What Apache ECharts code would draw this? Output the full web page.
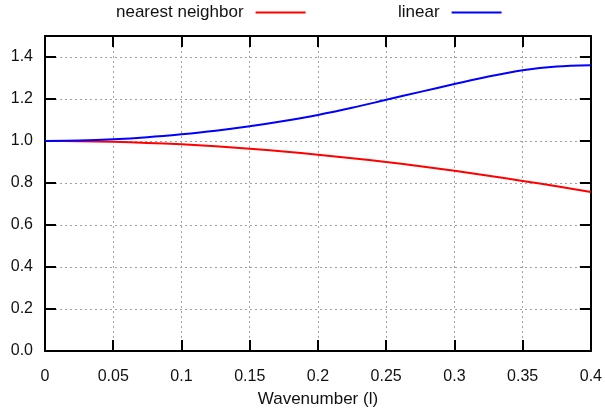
<!DOCTYPE html>
<html><head><meta charset="utf-8">
<script src="https://cdn.jsdelivr.net/npm/echarts@6/dist/echarts.min.js"></script>
<style>html,body{margin:0;padding:0;background:#fff}#c{width:605px;height:415px}</style>
</head><body><div id="c"></div>
<script>
const wavenumbers = [0, 0.025, 0.05, 0.075, 0.1, 0.125, 0.15, 0.175, 0.2, 0.225, 0.25, 0.275, 0.3, 0.325, 0.35, 0.375, 0.4];
const nearestNeighbor = [1.000, 0.999, 0.996, 0.991, 0.984, 0.975, 0.963, 0.950, 0.935, 0.918, 0.900, 0.880, 0.858, 0.835, 0.810, 0.784, 0.757];
const linear = [1.000, 1.002, 1.008, 1.018, 1.032, 1.049, 1.070, 1.095, 1.124, 1.158, 1.196, 1.234, 1.271, 1.307, 1.337, 1.355, 1.361];
const xTickLabels = ['0', '0.05', '0.1', '0.15', '0.2', '0.25', '0.3', '0.35', '0.4'];
const yTickLabels = ['0.0', '0.2', '0.4', '0.6', '0.8', '1.0', '1.2', '1.4'];
const seriesNames = ['nearest neighbor', 'linear'];
const seriesColors = ['#ff0000', '#0000ff'];
const xAxisTitle = 'Wavenumber (l)';

const FONT = 'Liberation Sans, Arial, Helvetica, sans-serif';
const XSTEP = 0.05, YSTEP = 0.2;
function pick(labels, step) {
  return function (v) {
    const i = Math.round(v / step);
    if (Math.abs(v - i * step) > 1e-6 || i < 0 || i >= labels.length) return '';
    return labels[i];
  };
}
const axisLine = { show: true, onZero: false, lineStyle: { color: '#000', width: 2 } };
const axisTick = { show: true, inside: true, length: 11, lineStyle: { color: '#000', width: 2 } };
const splitLine = { show: true, lineStyle: { color: '#a0a0a0', width: 1, type: [2, 3] } };
const legendText = { fontFamily: FONT, fontSize: 17, color: '#111', padding: [0, 7, 0, 0] };

const chart = echarts.init(document.getElementById('c'), null, { renderer: 'canvas' });
chart.setOption({
  animation: false,
  backgroundColor: '#fff',
  textStyle: { fontFamily: FONT },
  grid: { left: 45, right: 12, top: 36, bottom: 64, containLabel: false },
  legend: [
    { left: 116, top: 4, padding: 0, align: 'right', itemWidth: 50, itemHeight: 2, selectedMode: false,
      data: [{ name: seriesNames[0], icon: 'rect' }], textStyle: legendText },
    { left: 398, top: 4, padding: 0, align: 'right', itemWidth: 50, itemHeight: 2, selectedMode: false,
      data: [{ name: seriesNames[1], icon: 'rect' }], textStyle: legendText }
  ],
  xAxis: [
    { type: 'value', position: 'bottom', min: 0, max: 0.4, interval: XSTEP,
      name: xAxisTitle, nameLocation: 'middle', nameGap: 40,
      nameTextStyle: { fontFamily: FONT, fontSize: 17, color: '#111' },
      axisLine, axisTick, splitLine,
      axisLabel: { margin: 18, fontFamily: FONT, fontSize: 16, color: '#111', formatter: pick(xTickLabels, XSTEP) } },
    { type: 'value', position: 'top', min: 0, max: 0.4, interval: XSTEP,
      axisLine, axisTick, splitLine: { show: false }, axisLabel: { show: false } }
  ],
  yAxis: [
    { type: 'value', position: 'left', min: 0, max: 1.5, interval: YSTEP,
      axisLine, axisTick, splitLine,
      axisLabel: { margin: 12, fontFamily: FONT, fontSize: 16, color: '#111', formatter: pick(yTickLabels, YSTEP) } },
    { type: 'value', position: 'right', min: 0, max: 1.5, interval: YSTEP,
      axisLine, axisTick, splitLine: { show: false }, axisLabel: { show: false } }
  ],
  series: [
    { name: seriesNames[0], type: 'line', smooth: 0.3, showSymbol: false, symbol: 'none',
      color: seriesColors[0], lineStyle: { color: seriesColors[0], width: 2 },
      data: wavenumbers.map((x, i) => [x, nearestNeighbor[i]]) },
    { name: seriesNames[1], type: 'line', smooth: 0.3, showSymbol: false, symbol: 'none',
      color: seriesColors[1], lineStyle: { color: seriesColors[1], width: 2 },
      data: wavenumbers.map((x, i) => [x, linear[i]]) }
  ]
});
</script></body></html>
